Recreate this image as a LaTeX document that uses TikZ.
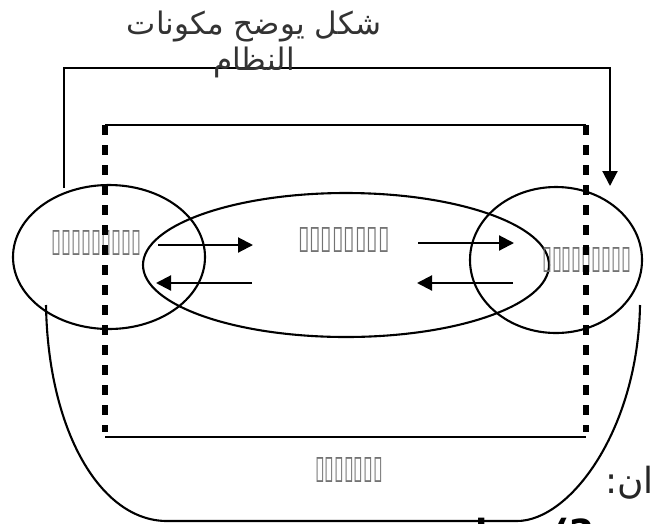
\documentclass[tikz,border=0pt]{standalone}
\usepackage{fontspec}
\usepackage{graphicx}
\usetikzlibrary{shapes.geometric,arrows.meta}
\newfontfamily\arabicfont[Script=Arabic]{DejaVu Sans}
\newfontfamily\dejavu{DejaVu Sans}
\TeXXeTstate=1
\begin{document}
\begin{tikzpicture}[x=1pt,y=-1pt,
  line/.style={line width=2.1pt},
  ell/.style={draw, ellipse, line width=2.1pt, inner sep=0pt},
  dashv/.style={line width=6pt, dash pattern=on 10pt off 10pt},
  tip/.style={-{Triangle[length=15pt,width=15pt]}},
  arr/.style={line width=2.1pt, tip},
  tofu/.style={text=black!55, inner sep=0pt, font=\dejavu},
]
\useasboundingbox (0,0) rectangle (655,523);
\fill[white] (0,0) rectangle (655,523);

% ellipses
\node[ell, minimum width=192pt, minimum height=144pt] (L) at (109,257) {};
\node[ell, minimum width=406pt, minimum height=144pt] (M) at (346,265) {};
\node[ell, minimum width=172pt, minimum height=146pt] (R) at (556,260) {};

% labels
\node[tofu] (tL) at (97,243) {\resizebox{90pt}{21pt}{▯▯▯▯▯▯▯▯▯}};
\node[tofu] (tM) at (344,240) {\resizebox{92pt}{21pt}{▯▯▯▯▯▯▯▯}};
\node[tofu] (tR) at (587,260) {\resizebox{90pt}{21pt}{▯▯▯▯▯▯▯▯▯}};
\node[tofu] (tB) at (349,470) {\resizebox{68pt}{21pt}{▯▯▯▯▯▯▯}};

% top connector
\coordinate (c1) at (64,188);
\coordinate (c2) at (64,68);
\coordinate (c3) at (610,68);
\coordinate (c4) at (610,186);
\draw[line, tip] (c1) -- (c2) -- (c3) -- (c4);

% title
\node[text=black!80, align=center, font=\arabicfont\fontsize{31}{36}\selectfont] (title) at (254,44)
  {\beginR شكل يوضح مكونات\endR\\\beginR النظام\endR};

% dashed frame
\coordinate (d1) at (105,125);
\coordinate (d2) at (586,125);
\coordinate (d3) at (105,432);
\coordinate (d4) at (586,432);
\coordinate (b1) at (105,437);
\coordinate (b2) at (586,437);
\draw[line] (d1) -- (d2);
\draw[dashv] (d1) -- (d3);
\draw[dashv] (d2) -- (d4);
\draw[line] (b1) -- (b2);

% U curve
\coordinate (u1) at (46,305);
\coordinate (u2) at (167,521);
\coordinate (u3) at (517,521);
\coordinate (u4) at (640,305);
\draw[line] (u1) .. controls (48,430) and (100,521) .. (u2) -- (u3) .. controls (570,521) and (638,430) .. (u4);

% arrows
\coordinate (a1) at (158,245); \coordinate (a2) at (253,245);
\coordinate (a3) at (252,283); \coordinate (a4) at (156,283);
\coordinate (a5) at (418,243); \coordinate (a6) at (514,243);
\coordinate (a7) at (513,283); \coordinate (a8) at (417,283);
\draw[arr] (a1) -- (a2);
\draw[arr] (a3) -- (a4);
\draw[arr] (a5) -- (a6);
\draw[arr] (a7) -- (a8);

% cut-off texts at bottom right
\node[anchor=east, inner sep=0pt, text=black!85, font=\arabicfont\fontsize{36}{40}\selectfont] (cut1) at (654,483) {\beginR ان:\endR};
\node[anchor=base west, inner sep=0pt, font=\dejavu\bfseries\fontsize{36}{40}\selectfont] (cut2) at (553,545) {(2};
\node[anchor=base, inner sep=0pt, font=\arabicfont\bfseries\fontsize{36}{40}\selectfont] (cut3) at (482,545) {ا};
\end{tikzpicture}
\end{document}
